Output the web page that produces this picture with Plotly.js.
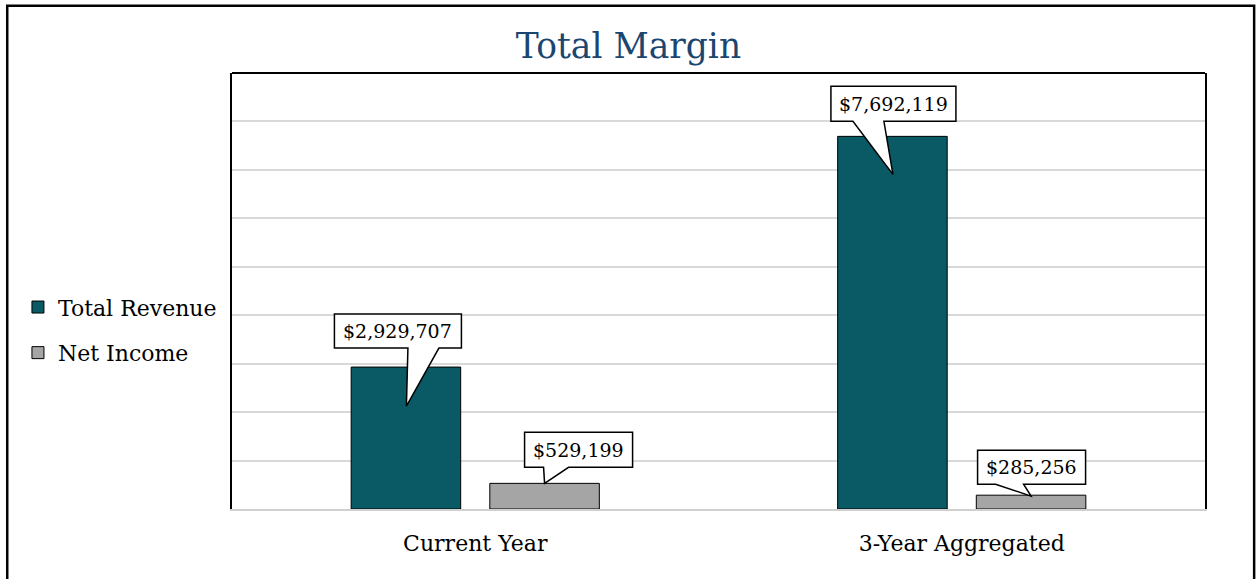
<!DOCTYPE html>
<html>
<head>
<meta charset="utf-8">
<script src="https://cdn.plot.ly/plotly-3.0.1.min.js"></script>
<style>html,body{margin:0;padding:0;background:#fff;}#chart{width:1257px;height:579px;}</style>
</head>
<body>
<div id="chart"></div>
<script>
const categories = ["Current Year", "3-Year Aggregated"];
const seriesNames = ["Total Revenue", "Net Income"];
const totalRevenue = [2929707, 7692119];
const netIncome = [529199, 285256];

const FONT = "DejaVu Serif";
const colors = ["#0a5a65", "#a5a5a5"];
const bargap = 0.43, bargroupgap = 0.21;

const fmt = v => "$" + v.toLocaleString("en-US");

const traces = [totalRevenue, netIncome].map((vals, i) => ({
  type: "bar",
  name: seriesNames[i],
  x: categories,
  y: vals,
  legendgroup: "g" + i,
  marker: {color: colors[i], line: {color: "#000", width: 1}},
  hoverinfo: "skip"
}));

// callout styling: pixel offsets relative to the bar top centre (y up)
// tip = wedge point, b = box centre, w/h = box size, base = wedge base x range on box bottom
const callouts = [
  {s: 0, c: 0, tip: [0.5, -39], b: [-8, 36], w: 127, h: 34, base: [2, 33]},
  {s: 0, c: 1, tip: [0.5, -38], b: [1, 32.5], w: 125, h: 35, base: [-39.5, -8.5]},
  {s: 1, c: 0, tip: [0, 0], b: [34, 33.5], w: 108, h: 35, base: [-1, 24]},
  {s: 1, c: 1, tip: [0, -1], b: [0.5, 28], w: 108, h: 34, base: [-35.5, -7.5]}
];
const slot = (1 - bargap) / 2;
const shapes = [
  {type: "line", xref: "paper", yref: "paper", x0: 0, x1: 1, y0: 1, y1: 1, line: {color: "#000", width: 2}},
  {type: "rect", xref: "paper", yref: "paper", x0: -0.231, x1: 1.0505, y0: -0.25, y1: 1.154,
   line: {color: "#000", width: 2.5}, layer: "below"}
];
const annotations = [];
callouts.forEach(o => {
  const v = [totalRevenue, netIncome][o.s][o.c];
  const xa = o.c + (o.s === 0 ? -slot / 2 : slot / 2);
  const L = o.b[0] - o.w / 2, R = o.b[0] + o.w / 2;
  const T = o.b[1] + o.h / 2, B = o.b[1] - o.h / 2;
  const p = `M${L},${T} L${R},${T} L${R},${B} L${o.base[1]},${B} L${o.tip[0]},${o.tip[1]} L${o.base[0]},${B} L${L},${B} Z`;
  shapes.push({type: "path", xref: "x", yref: "y", xsizemode: "pixel", ysizemode: "pixel",
    xanchor: xa, yanchor: v, path: p, fillcolor: "#fff", line: {color: "#000", width: 1.5}, layer: "above"});
  annotations.push({x: xa, y: v, xref: "x", yref: "y", xshift: o.b[0], yshift: o.b[1],
    text: fmt(v), showarrow: false, xanchor: "center", yanchor: "middle",
    font: {family: FONT, size: 19, color: "#000"}});
});

const layout = {
  width: 1257, height: 579,
  margin: {l: 232, r: 52, t: 73, b: 70},
  paper_bgcolor: "#fff", plot_bgcolor: "#fff",
  title: {text: "Total Margin", x: 0.5, xref: "container", xanchor: "center", y: 0.92, yanchor: "middle",
          font: {family: FONT, size: 34.5, color: "#1b4670"}},
  barmode: "group", bargap: bargap, bargroupgap: bargroupgap,
  xaxis: {type: "category", showline: true, linecolor: "#d0d0d0", linewidth: 2, showgrid: false,
          ticks: "", ticklabelstandoff: 14, tickfont: {family: FONT, size: 22, color: "#000"}, fixedrange: true},
  yaxis: {range: [0, 9000000], dtick: 1000000, showticklabels: false, ticks: "",
          showgrid: true, gridcolor: "#d9d9d9", gridwidth: 2, zeroline: false,
          showline: true, mirror: true, linecolor: "#000", linewidth: 2, fixedrange: true},
  legend: {x: -0.22, xanchor: "left", y: 0.41, yanchor: "middle", orientation: "v",
           font: {family: FONT, size: 22, color: "#000"}, tracegroupgap: 14, bgcolor: "rgba(0,0,0,0)"},
  annotations: annotations,
  shapes: shapes
};

Plotly.newPlot("chart", traces, layout, {displayModeBar: false, staticPlot: true});
</script>
</body>
</html>
